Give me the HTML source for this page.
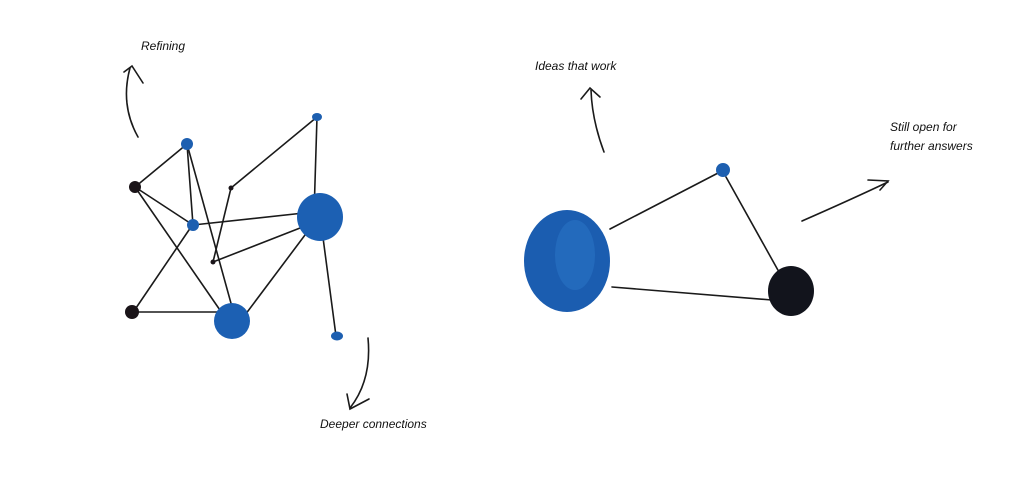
<!DOCTYPE html>
<html><head><meta charset="utf-8"><style>
html,body{margin:0;padding:0;background:#fff;}
svg{display:block}
text{font-family:"Liberation Sans",sans-serif;font-style:italic;font-size:12px;fill:#111;}
</style></head><body>
<svg width="1024" height="484" viewBox="0 0 1024 484" xmlns="http://www.w3.org/2000/svg">
<rect width="1024" height="484" fill="#fff"/>
<g stroke="#1a1a1a" stroke-width="1.6" fill="none" stroke-linecap="round">
<line x1="135" y1="187" x2="187" y2="144"/>
<line x1="135" y1="187" x2="193" y2="225"/>
<line x1="135" y1="187" x2="222" y2="313"/>
<line x1="187" y1="144" x2="193" y2="225"/>
<line x1="187" y1="144" x2="237" y2="325"/>
<line x1="191" y1="227" x2="136" y2="308"/>
<line x1="193" y1="225" x2="313" y2="212"/>
<line x1="231" y1="188" x2="317" y2="117"/>
<line x1="231" y1="188" x2="213" y2="262"/>
<line x1="213" y1="262" x2="318" y2="221"/>
<line x1="317" y1="117" x2="314" y2="215"/>
<line x1="322" y1="230" x2="336" y2="336"/>
<line x1="132" y1="312" x2="230" y2="312"/>
<line x1="245" y1="315" x2="305" y2="235"/>
<line x1="610" y1="229" x2="720" y2="172"/>
<line x1="726" y1="177" x2="779" y2="272"/>
<line x1="612" y1="287" x2="772" y2="300"/>
<!-- arrows -->
<path d="M138,137 Q120,105 130,68"/>
<path d="M124,72 L132,66 L143,83"/>
<path d="M604,152 Q592,120 591,90"/>
<path d="M581,99 L590,88 L600,97"/>
<path d="M802,221 Q850,200 888,182"/>
<path d="M868,180 L888,181 L880,190"/>
<path d="M368,338 Q372,380 350,408"/>
<path d="M347,394 L350,409 L369,399"/>
</g>
<g>
<circle cx="187" cy="144" r="6" fill="#1d5fb0"/>
<circle cx="135" cy="187" r="6" fill="#1a1418"/>
<circle cx="231" cy="188" r="2.5" fill="#1a1418"/>
<circle cx="193" cy="225" r="6" fill="#1d5fb0"/>
<ellipse cx="320" cy="217" rx="23" ry="24" fill="#1c60b3"/>
<ellipse cx="317" cy="117" rx="5" ry="4" fill="#1d5fb0"/>
<circle cx="213" cy="262" r="2.5" fill="#1a1418"/>
<circle cx="132" cy="312" r="7" fill="#1a1418"/>
<circle cx="232" cy="321" r="18" fill="#1c60b3"/>
<ellipse cx="337" cy="336" rx="6" ry="4.5" fill="#1d5fb0"/>
<ellipse cx="567" cy="261" rx="43" ry="51" fill="#1b5db0"/>
<ellipse cx="575" cy="255" rx="20" ry="35" fill="#2a73c4" opacity="0.6"/>
<circle cx="723" cy="170" r="7" fill="#1d5fb0"/>
<ellipse cx="791" cy="291" rx="23" ry="25" fill="#12141c"/>
</g>
<text x="141" y="50">Refining</text>
<text x="535" y="70">Ideas that work</text>
<text x="890" y="131">Still open for</text>
<text x="890" y="150">further answers</text>
<text x="320" y="428">Deeper connections</text>
</svg>
</body></html>
